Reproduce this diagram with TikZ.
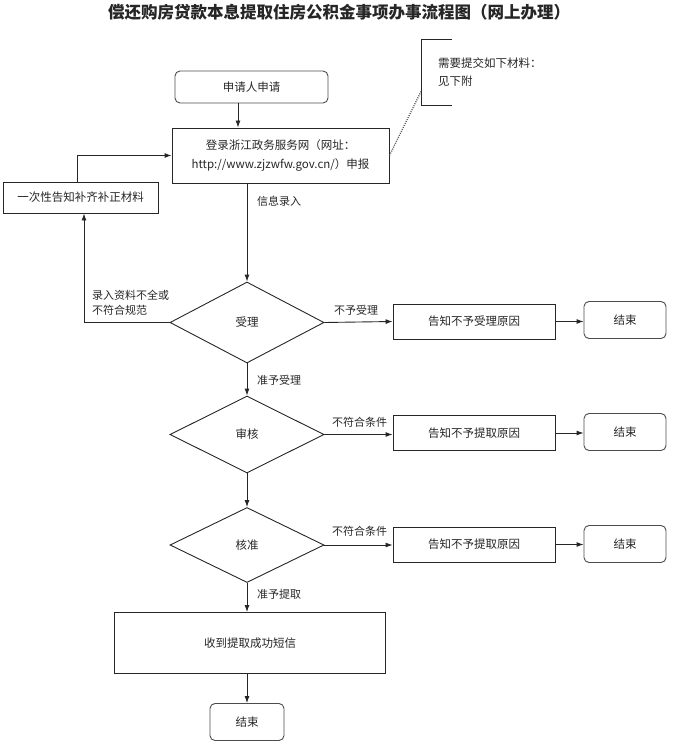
\documentclass[tikz,border=0pt]{standalone}
\usepackage{fontspec}
\setmainfont{Noto Sans CJK SC}
\usetikzlibrary{shapes.geometric,arrows.meta,calc}
\begin{document}
\begin{tikzpicture}[x=1pt,y=-1pt,
  every node/.style={font=\fontsize{11.5}{14}\selectfont, text=black!85},
  box/.style={draw=black!85, line width=0.9pt, rectangle, inner sep=0pt, align=center},
  rbox/.style={draw=black!70, line width=0.9pt, rectangle, rounded corners=5pt, inner sep=0pt, align=center},
  dia/.style={draw=black!85, line width=0.9pt, diamond, inner sep=0pt, minimum width=154pt},
  lbl/.style={font=\fontsize{11}{15}\selectfont, inner sep=0pt, anchor=west, align=left},
  arr/.style={-{Latex[length=7pt,width=5pt]}, line width=0.9pt, draw=black!85},
  ln/.style={line width=0.9pt, draw=black!85}]
\useasboundingbox (0,0) rectangle (690,751);
% title
\node[font=\fontsize{16.5}{18}\selectfont\bfseries] (title) at (339,12) {偿还购房贷款本息提取住房公积金事项办事流程图（网上办理）};
% nodes
\node[rbox, minimum width=153pt, minimum height=32pt] (apply) at (251.5,87) {申请人申请};
\node[box, minimum width=217pt, minimum height=55pt, font=\fontsize{11.5}{19.5}\selectfont] (login) at (280.5,155.5) {登录浙江政务服务网（网址：\\http://www.zjzwfw.gov.cn/）申报};
\node[box, minimum width=155pt, minimum height=31pt] (redo) at (80.5,197.5) {一次性告知补齐补正材料};
\node[anchor=west, minimum height=65pt, inner xsep=17pt, inner ysep=0pt, align=left, font=\fontsize{11.5}{18}\selectfont] (note) at (421,72.5) {需要提交如下材料：\\见下附};
\node[dia, minimum height=81pt] (d1) at (247,322.5) {受理};
\node[box, minimum width=162pt, minimum height=35pt] (n1) at (474,321.5) {告知不予受理原因};
\node[rbox, minimum width=82pt, minimum height=37pt] (e1) at (625,320) {结束};
\node[dia, minimum height=77pt] (d2) at (247,434.5) {审核};
\node[box, minimum width=162pt, minimum height=35pt] (n2) at (474,433) {告知不予提取原因};
\node[rbox, minimum width=82pt, minimum height=37pt] (e2) at (625,432) {结束};
\node[dia, minimum height=75pt] (d3) at (247,545) {核准};
\node[box, minimum width=162pt, minimum height=35pt] (n3) at (474,544.5) {告知不予提取原因};
\node[rbox, minimum width=82pt, minimum height=37pt] (e3) at (625,544) {结束};
\node[box, minimum width=271pt, minimum height=61pt] (recv) at (250,643) {收到提取成功短信};
\node[rbox, minimum width=74pt, minimum height=37pt] (e4) at (247,722) {结束};
% callout bracket
\draw[ln] ([xshift=31pt]note.north west) -- (note.north west) -- (note.south west) -- ([xshift=31pt]note.south west);
\coordinate (ntip) at ([yshift=-19pt]note.west);
\draw[line width=1.3pt, draw=black!65, dash pattern=on 1pt off 1.2pt] (login.east) -- (ntip);
% connectors
\draw[arr] (apply.south -| 238,0) -- (login.north -| 238,0);
\draw[arr] (login.south -| d1.north) -- (d1.north);
\draw[arr] ([xshift=-3.5pt]redo.north) |- (login.west);
\draw[arr] (d1.west) -| ([xshift=3.5pt]redo.south);
\draw[arr] (d1.east) -- (n1.west);
\draw[arr] (n1.east) -- (e1.west |- n1.east);
\draw[arr] (d1.south) -- (d2.north);
\draw[arr] (d2.east) -- (n2.west |- d2.east);
\draw[arr] (n2.east) -- (e2.west |- n2.east);
\draw[arr] (d2.south) -- (d3.north);
\draw[arr] (d3.east) -- (n3.west |- d3.east);
\draw[arr] (n3.east) -- (e3.west |- n3.east);
\draw[arr] (d3.south) -- (recv.north -| d3.south);
\draw[arr] (recv.south -| e4.north) -- (e4.north);
% labels
\node[lbl] (l1) at (257,201) {信息录入};
\node[lbl, anchor=north west] (l2) at (92,290) {录入资料不全或\\不符合规范};
\node[lbl] (l3) at (334,310) {不予受理};
\node[lbl] (l4) at (257,380) {准予受理};
\node[lbl] (l5) at (332,422) {不符合条件};
\node[lbl] (l6) at (332,531) {不符合条件};
\node[lbl] (l7) at (257,594) {准予提取};
\end{tikzpicture}
\end{document}
